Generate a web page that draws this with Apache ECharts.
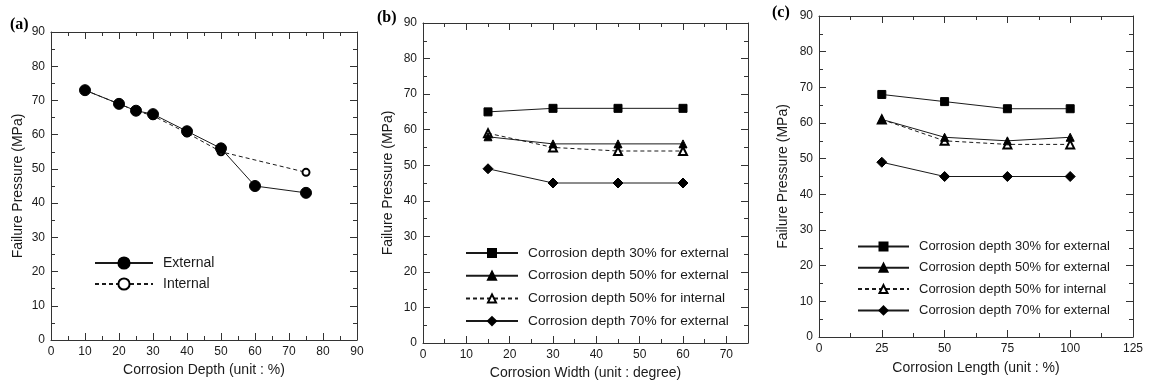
<!DOCTYPE html>
<html>
<head>
<meta charset="utf-8">
<script src="https://cdn.jsdelivr.net/npm/echarts@6/dist/echarts.min.js"></script>
<style>
  html, body { margin: 0; padding: 0; background: #fff; }
  #chart { width: 1150px; height: 385px; }
</style>
</head>
<body>
<div id="chart"></div>
<script>
// (a) corrosion depth
const depthX = [10, 20, 25, 30, 40, 50, 60, 75];
const depthExternal = [73, 69, 67, 66, 61, 56, 45, 43];
const depthInternalX = [10, 20, 25, 30, 40, 50, 75];
const depthInternal = [73, 69, 67, 65.5, 60.5, 55, 49];

// (b) corrosion width
const widthX = [15, 30, 45, 60];
const width30Ext = [65, 66, 66, 66];
const width50Ext = [58, 56, 56, 56];
const width50Int = [59, 55, 54, 54];
const width70Ext = [49, 45, 45, 45];

// (c) corrosion length
const lengthX = [25, 50, 75, 100];
const length30Ext = [68, 66, 64, 64];
const length50Ext = [61, 56, 55, 56];
const length50Int = [61, 55, 54, 54];
const length70Ext = [49, 45, 45, 45];

const legendNames = [
  "Corrosion depth 30% for external",
  "Corrosion depth 50% for external",
  "Corrosion depth 50% for internal",
  "Corrosion depth 70% for external"
];

const FONT = "Liberation Sans";
const INK = "#1a1a1a";
const pairs = (xs, ys) => xs.map((x, i) => [x, ys[i]]);

const chart = echarts.init(document.getElementById("chart"));

const grids = [
  { left: 51, top: 32, width: 306, height: 308 },
  { left: 423, top: 23, width: 325, height: 320 },
  { left: 819, top: 16, width: 314, height: 321 }
];

const xSpec = [
  { max: 90, interval: 10, name: "Corrosion Depth (unit : %)", gap: 23 },
  { max: 75, interval: 10, name: "Corrosion Width (unit : degree)", gap: 23 },
  { max: 125, interval: 25, name: "Corrosion Length (unit : %)", gap: 24 }
];
const yGap = [26, 28, 29];

function axisBase(show) {
  return {
    axisLine: { show: true, onZero: false, lineStyle: { color: "#333", width: 1 } },
    axisTick: { show: true, inside: true, length: 7, lineStyle: { color: "#333" } },
    minorTick: { show: true, splitNumber: 2, length: 4, lineStyle: { color: "#333" } },
    splitLine: { show: false },
    axisLabel: { show: show, color: INK, fontSize: 12, fontFamily: FONT, margin: 6 }
  };
}

const xAxis = [];
const yAxis = [];
xSpec.forEach((s, g) => {
  const bottom = Object.assign(axisBase(true), {
    type: "value", gridIndex: g, position: "bottom", min: 0, max: s.max, interval: s.interval,
    name: s.name, nameLocation: "middle", nameGap: s.gap,
    nameTextStyle: { color: INK, fontSize: 14, fontFamily: FONT }
  });
  // 75 closes panel (b) but carries no label
  bottom.axisLabel.showMaxLabel = g !== 1;
  bottom.axisLabel.formatter = v => (v % s.interval === 0 ? String(v) : "");
  xAxis.push(bottom);
  const top = Object.assign(axisBase(false), {
    type: "value", gridIndex: g, position: "top", min: 0, max: s.max, interval: s.interval
  });
  top.axisLabel = { show: false };
  xAxis.push(top);
  yAxis.push(Object.assign(axisBase(true), {
    type: "value", gridIndex: g, position: "left", min: 0, max: 90, interval: 10,
    name: "Failure Pressure (MPa)", nameLocation: "middle", nameGap: yGap[g],
    nameTextStyle: { color: INK, fontSize: 14, fontFamily: FONT }
  }));
  const right = Object.assign(axisBase(false), {
    type: "value", gridIndex: g, position: "right", min: 0, max: 90, interval: 10
  });
  right.axisLabel = { show: false };
  yAxis.push(right);
});

function line(name, g, data, symbol, size, dashed, z) {
  return {
    name: name, type: "line", xAxisIndex: g * 2, yAxisIndex: g * 2, data: data,
    symbol: symbol, symbolSize: size, z: z || 2, animation: false,
    lineStyle: { color: INK, width: 1, type: dashed ? [4, 3] : "solid" },
    itemStyle: { color: "#000", borderColor: "#000", borderWidth: 1 }
  };
}

const series = [
  line("Internal", 0, pairs(depthInternalX, depthInternal), "emptyCircle", 7, true, 1),
  line("External", 0, pairs(depthX, depthExternal), "circle", 11, false, 3),

  line(legendNames[0], 1, pairs(widthX, width30Ext), "rect", 8, false, 3),
  line(legendNames[2], 1, pairs(widthX, width50Int), "emptyTriangle", 8, true, 1),
  line(legendNames[1], 1, pairs(widthX, width50Ext), "triangle", 8, false, 3),
  line(legendNames[3], 1, pairs(widthX, width70Ext), "diamond", 10, false, 3),

  line(legendNames[0], 2, pairs(lengthX, length30Ext), "rect", 8, false, 3),
  line(legendNames[2], 2, pairs(lengthX, length50Int), "emptyTriangle", 8, true, 1),
  line(legendNames[1], 2, pairs(lengthX, length50Ext), "triangle", 8, false, 3),
  line(legendNames[3], 2, pairs(lengthX, length70Ext), "diamond", 10, false, 3)
];

function legend(data, left, top, w, h, gap, fs) {
  return {
    data: data, orient: "vertical", left: left, top: top, padding: 0,
    itemWidth: w, itemHeight: h, itemGap: gap, selectedMode: false,
    textStyle: { color: INK, fontSize: fs, fontFamily: FONT, padding: [0, 0, 0, 5] }
  };
}

const panelLabel = (text, x, y) => ({
  type: "text", left: x, top: y,
  style: { text: text, font: "bold 16px 'Liberation Serif'", fill: "#000" }
});

chart.setOption({
  backgroundColor: "#fff",
  animation: false,
  grid: grids,
  xAxis: xAxis,
  yAxis: yAxis,
  legend: [
    legend(["External", "Internal"], 94, 256, 58, 14, 7, 14),
    legend(legendNames, 465, 246, 52, 10, 8.7, 13.7),
    legend(legendNames, 857, 240, 51, 10, 8.3, 13)
  ],
  graphic: [
    panelLabel("(a)", 10, 17),
    panelLabel("(b)", 377, 10),
    panelLabel("(c)", 772, 5)
  ],
  series: series
});
</script>
</body>
</html>
